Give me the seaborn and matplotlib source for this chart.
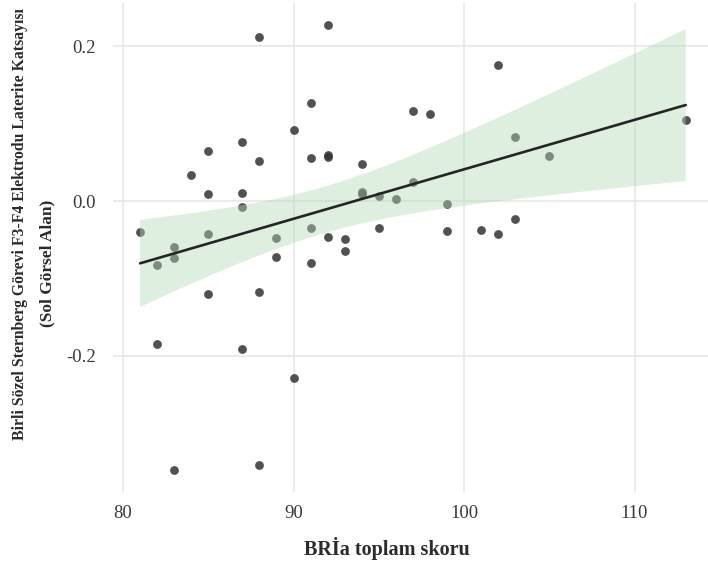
import numpy as np
import pandas as pd
import seaborn as sns
import matplotlib
matplotlib.use("Agg")
import matplotlib.pyplot as plt

# Data
bria_score = [81, 82, 82, 83, 83, 83, 84, 85, 85, 85, 85, 87, 87, 87, 87,
              88, 88, 88, 88, 89, 89, 90, 90, 91, 91, 91, 91, 92, 92, 92, 92,
              93, 93, 94, 94, 94, 95, 95, 96, 97, 97, 98, 99, 99, 101, 102, 102,
              103, 103, 105, 113]
lateral_coef = [-0.040, -0.083, -0.185, -0.059, -0.074, -0.347, 0.033, 0.065, 0.009,
                -0.043, -0.120, 0.076, 0.010, -0.008, -0.191,
                0.211, 0.052, -0.117, -0.341, -0.048, -0.072, 0.091, -0.228,
                0.127, 0.056, -0.035, -0.080, 0.227, 0.059, 0.057, -0.047,
                -0.049, -0.064, 0.048, 0.012, 0.009, 0.006, -0.035, 0.002, 0.116, 0.024,
                0.112, -0.004, -0.039, -0.038, 0.175, -0.043,
                0.083, -0.023, 0.058, 0.105]
x_ticks = [80, 90, 100, 110]
y_ticks = [-0.2, 0.0, 0.2]
y_tick_labels = ["-0.2", "0.0", "0.2"]
x_label = "BRİa toplam skoru"
y_label_1 = "Birli Sözel Sternberg Görevi F3-F4 Elektrodu Laterite Katsayısı"
y_label_2 = "(Sol Görsel Alan)"

df = pd.DataFrame({"x": bria_score, "y": lateral_coef})

sns.set_theme(style="white")
plt.rcParams["font.family"] = ["Liberation Serif", "DejaVu Serif"]

W, H = 708, 567
fig = plt.figure(figsize=(W / 100, H / 100), dpi=100)
left_px, right_px, top_px, bot_px = 112.8, 713.0, 3.0, 492.0
ax = fig.add_axes([left_px / W, (H - bot_px) / H, (right_px - left_px) / W, (bot_px - top_px) / H])

sns.regplot(data=df, x="x", y="y", ax=ax, ci=None,
            scatter_kws=dict(s=40, color="#333333", alpha=0.85, linewidths=0),
            line_kws=dict(color="#252525", lw=1.9, zorder=3))

# analytic 95% confidence band of the linear fit (like geom_smooth(method="lm"))
x = df["x"].to_numpy(float)
y = df["y"].to_numpy(float)
n = len(x)
slope, icpt = np.polyfit(x, y, 1)
resid = y - (slope * x + icpt)
s_err = np.sqrt(np.sum(resid ** 2) / (n - 2))
xbar = x.mean()
sxx = np.sum((x - xbar) ** 2)
grid = np.linspace(x.min(), x.max(), 100)
yhat = slope * grid + icpt
se = s_err * np.sqrt(1.0 / n + (grid - xbar) ** 2 / sxx)
t_crit = 2.0096
ax.fill_between(grid, yhat - t_crit * se, yhat + t_crit * se,
                facecolor=(0.71, 0.855, 0.71), alpha=0.43, edgecolor="none", zorder=2)

ax.set_xlim(79.4, 114.6)
ax.set_ylim(-0.3755, 0.2555)
ax.set_xticks(x_ticks)
ax.set_yticks(y_ticks)
ax.set_yticklabels(y_tick_labels)
ax.grid(True, color="#e6e6e6", lw=1.1)
ax.set_axisbelow(True)
for s in ax.spines.values():
    s.set_visible(False)
ax.tick_params(axis="both", length=0, labelsize=13.5, labelcolor="#3a3a3a")
ax.tick_params(axis="x", pad=9)
ax.tick_params(axis="y", pad=12)
ax.set_xlabel("")
ax.set_ylabel("")

fig.text(387 / W, 1 - 548 / H, x_label, ha="center", va="center",
         fontsize=14.5, fontweight="bold", color="#2b2b2b")
fig.text(20 / W, 1 - 224 / H, y_label_1, ha="center", va="center", rotation=90,
         fontsize=11.3, fontweight="bold", color="#2b2b2b")
fig.text(47 / W, 1 - 263 / H, y_label_2, ha="center", va="center", rotation=90,
         fontsize=12.5, fontweight="bold", color="#2b2b2b")

fig.savefig("out.png", dpi=100, facecolor="white")
